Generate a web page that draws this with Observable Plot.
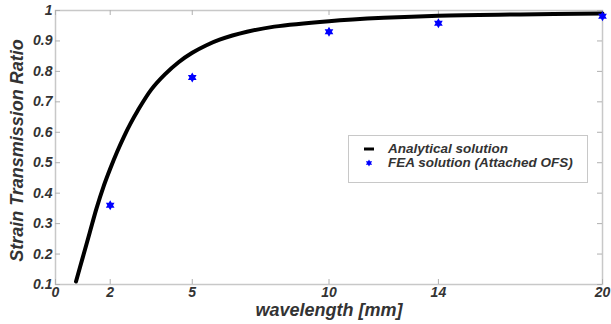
<!DOCTYPE html>
<html><head><meta charset="utf-8">
<script src="https://cdn.jsdelivr.net/npm/d3@7"></script>
<script src="https://cdn.jsdelivr.net/npm/@observablehq/plot@0.6"></script>
<style>
body{margin:0;background:#fff;}
#wrap{position:relative;width:611px;height:324px;}
.legend{position:absolute;left:348px;top:135px;width:240px;height:48px;border:1px solid #c8c8c8;background:#fff;box-sizing:border-box;font:italic bold 13.5px "Liberation Sans",Arial,sans-serif;color:#333;}
.row{position:absolute;left:0;height:14px;line-height:14px;white-space:nowrap;}
.row svg{position:absolute;left:12px;top:0;}
.row span{position:absolute;left:39px;top:0;}
</style></head><body><div id="wrap"></div>
<script>
const analyticalX = [0.75, 1.0, 1.25, 1.5, 1.75, 2.0, 2.25, 2.5, 2.75, 3.0, 3.5, 4.0, 4.5, 5.0, 5.5, 6.0, 7.0, 8.0, 10.0, 12.0, 14.0, 17.0, 20.0];
const analyticalY = [0.11, 0.19, 0.27, 0.35, 0.42, 0.48, 0.535, 0.585, 0.63, 0.67, 0.74, 0.79, 0.83, 0.861, 0.885, 0.904, 0.93, 0.947, 0.965, 0.976, 0.983, 0.987, 0.99];
const feaX = [2, 5, 10, 14, 20];
const feaY = [0.36, 0.78, 0.93, 0.958, 0.981];
const xTicks = [0, 2, 5, 10, 14, 20];
const xTickLabels = ["0", "2", "5", "10", "14", "20"];
const yTicks = [0.1, 0.2, 0.3, 0.4, 0.5, 0.6, 0.7, 0.8, 0.9, 1];
const yTickLabels = ["0.1", "0.2", "0.3", "0.4", "0.5", "0.6", "0.7", "0.8", "0.9", "1"];
const seriesNames = ["Analytical solution", "FEA solution (Attached OFS)"];
const xLabel = "wavelength [mm]";
const yLabel = "Strain Transmission Ratio";

const FONT = '"Liberation Sans", Arial, sans-serif';
const TXT = "#333";

// six-pointed star (hexagram) symbol
const hexagram = {
  draw(context, size) {
    const R = Math.sqrt(size / Math.PI);
    const c = R * Math.cos(Math.PI / 6), h = R / 2;
    context.moveTo(0, -R); context.lineTo(c, h); context.lineTo(-c, h); context.closePath();
    context.moveTo(0, R); context.lineTo(-c, -h); context.lineTo(c, -h); context.closePath();
  }
};

const analytical = analyticalX.map((x, i) => ({x, y: analyticalY[i]}));
const fea = feaX.map((x, i) => ({x, y: feaY[i]}));

const W = 611, H = 324, ML = 55, MR = 9, MT = 10, MB = 40;
const fw = W - ML - MR, fh = H - MT - MB, tl = 5;

const chart = Plot.plot({
  width: W, height: H,
  marginLeft: ML, marginRight: MR, marginTop: MT, marginBottom: MB,
  x: {domain: [0, 20]},
  y: {domain: [0.1, 1]},
  style: {fontFamily: FONT, background: "#fff", overflow: "visible"},
  marks: [
    Plot.frame({stroke: "#c8c8c8", strokeWidth: 1.5}),
    Plot.tickX(xTicks, {x: d => d, insetTop: fh - tl, stroke: "#b0b0b0"}),
    Plot.tickX(xTicks, {x: d => d, insetBottom: fh - tl, stroke: "#b0b0b0"}),
    Plot.tickY(yTicks, {y: d => d, insetRight: fw - tl, stroke: "#b0b0b0"}),
    Plot.tickY(yTicks, {y: d => d, insetLeft: fw - tl, stroke: "#b0b0b0"}),
    Plot.axisX({ticks: xTicks, tickSize: 0, tickPadding: 3, label: null,
      tickFormat: d => xTickLabels[xTicks.indexOf(d)],
      fontSize: 14, fontWeight: "bold", fontStyle: "italic", fill: TXT}),
    Plot.axisY({ticks: yTicks, tickSize: 0, tickPadding: 3, label: null,
      tickFormat: d => yTickLabels[yTicks.indexOf(d)],
      fontSize: 14, fontWeight: "bold", fontStyle: "italic", fill: TXT}),
    Plot.line(analytical, {x: "x", y: "y", stroke: "#000", strokeWidth: 4, curve: "catmull-rom"}),
    Plot.dot(fea, {x: "x", y: "y", r: 5, symbol: hexagram, fill: "#0000ff", stroke: "none"}),
    Plot.text([xLabel], {text: d => d, frameAnchor: "bottom", dy: 26, lineAnchor: "middle", textAnchor: "middle",
      fontSize: 18, fontWeight: "bold", fontStyle: "italic", fill: TXT}),
    Plot.text([yLabel], {text: d => d, frameAnchor: "left", dx: -38, dy: 3, rotate: -90, lineAnchor: "middle", textAnchor: "middle",
      fontSize: 18, fontWeight: "bold", fontStyle: "italic", fill: TXT})
  ]
});

const wrap = document.getElementById("wrap");
wrap.appendChild(chart);

// legend overlay
const legend = document.createElement("div");
legend.className = "legend";
const rowTops = [6, 20];
seriesNames.forEach((name, i) => {
  const row = document.createElement("div");
  row.className = "row";
  row.style.top = rowTops[i] + "px";
  const svg = d3.create("svg").attr("width", 16).attr("height", 14);
  if (i === 0) {
    svg.append("line").attr("x1", 3).attr("x2", 13).attr("y1", 7).attr("y2", 7)
      .attr("stroke", "#000").attr("stroke-width", 3);
  } else {
    svg.append("path").attr("transform", "translate(8,7)")
      .attr("d", d3.symbol(hexagram, Math.PI * 3.6 * 3.6)())
      .attr("fill", "#0000ff");
  }
  row.appendChild(svg.node());
  const span = document.createElement("span");
  span.textContent = name;
  row.appendChild(span);
  legend.appendChild(row);
});
wrap.appendChild(legend);
</script>
</body></html>
